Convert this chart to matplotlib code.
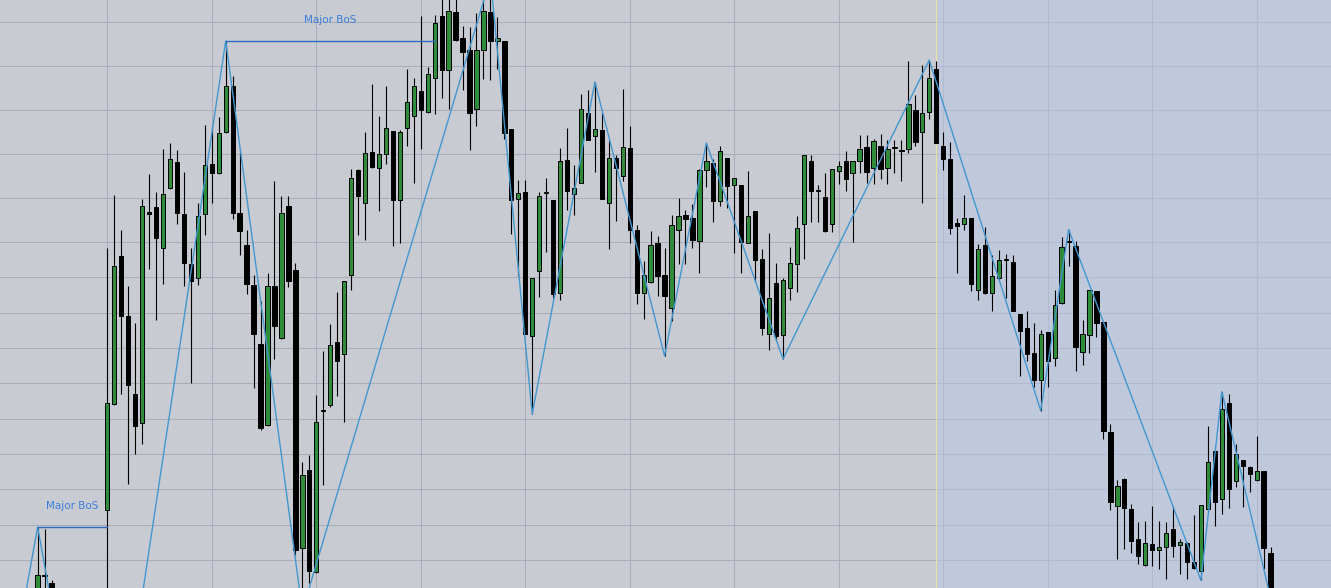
import numpy as np
import matplotlib.pyplot as plt

# candle data (price units, first candle has index -3; several candles sit below the visible range)
first_index = -3
opens = [-12, -12, -6, -5, 13, 5, -10, -35, -75, -110, -160, -205, -240,
         78, 184, 332, 272, 194, 165, 376, 381, 340, 400, 426, 374, 324, 310, 374, 424, 415, 456,
         502, 375, 343, 303, 244, 163, 302, 250, 382, 318, 40, 118, 16, 177.2, 183, 246, 234, 313,
         418, 385, 436, 420, 434, 457, 388, 460, 472, 497, 476, 510, 572, 518, 576, 550, 538, 479,
         538, 576, 547, 547, 459, 389, 396, 252, 317, 395, 388, 295, 428, 394, 405, 475, 452, 458,
         385, 430, 412, 440, 358, 295, 306, 345, 313, 280, 358, 373, 370, 347, 418, 425, 387, 430,
         403, 403, 345.5, 377, 329, 254, 305, 253, 300, 324, 364, 427, 397, 391, 364, 417, 427, 415,
         427, 441, 420, 442, 420, 440, 437.3, 439, 478, 456, 476, 519, 442, 429, 365, 364, 370, 298,
         343, 295, 310, 328, 326, 274, 260, 235, 208, 256, 230, 285, 346.2, 342, 236, 253, 297, 266,
         156, 81.8, 109, 79, 48.8, 23, 43.6, 38, 40.6, 59.3, 43.2, 45, 25.6, 17.3, 78.8, 137, 89.3,
         185, 107, 127.6, 121.2, 108, 116.7, 35]
highs = [-8, -3, -1, 61, 59, 8, -8, -30, -60, -100, -150, -195, -60,
         340, 393, 358, 302, 265, 389, 414, 396, 439, 445, 438, 416, 340, 385, 463, 461, 471, 547,
         512, 439, 358, 313, 287, 315, 407, 392, 392, 325, 126, 133, 193, 237, 264, 296, 307, 419,
         419, 456, 504, 472, 502, 457, 458, 519, 510, 572, 521, 573, 591, 590, 590, 562, 561, 575,
         592, 610, 571, 547, 459, 408, 408, 310.5, 396, 410, 388.5, 440, 460, 423, 494, 498, 506, 475,
         448, 433, 499, 462, 363, 327, 357, 352, 340, 373, 390, 378, 384, 419, 445, 429, 442, 430.5,
         410.5, 403.5, 417, 377.5, 339, 355, 325, 310, 341, 372, 433.5, 433, 403, 415, 419.5, 427, 437, 427.5,
         453, 453, 449, 454, 448, 448, 448, 527, 493, 523, 528, 527, 456, 446, 370, 393, 370.5, 344,
         361, 333, 338, 334, 333, 274.5, 277, 265, 258, 256.5, 298, 351, 358.5, 347, 268, 298.5, 297.5, 266.5,
         163.6, 108, 110, 83.7, 65.7, 66.8, 81.8, 66.8, 66, 81.8, 49.2, 46.2, 73.2, 83, 161.7, 141.8, 196.2,
         194.3, 143.7, 128, 121.6, 152, 117, 40.6]
lows = [-24, -16, -8, -10, -15, -14, -40, -80, -120, -170, -215, -255, -286,
        -20, 183, 194, 104, 134, 144, 319, 268, 304, 399, 364, 302, 205, 303, 353, 385, 414, 455,
        369, 333, 294, 200, 158, 162, 229, 249, 301, 33, -23, 5, 15, 103, 181, 192, 166, 298,
        353, 348, 420, 377, 424, 342, 345, 442, 405, 439, 475, 474, 490, 479, 547, 498, 438, 462,
        509, 508, 519, 449, 354, 312, 254, 174, 291, 336, 290, 288, 378, 373, 405, 448, 416, 389,
        339, 367, 407, 345, 284, 269, 305.5, 292, 232, 267, 324, 324, 340, 315, 401, 366, 382, 380,
        335, 315, 345, 307, 253, 238, 247, 229, 288, 296, 329, 366, 366, 356, 356, 404, 397, 346,
        415, 405, 404, 409, 404, 415, 407, 435, 442, 385, 469, 445, 418, 354, 315, 358, 297, 288,
        294.5, 277, 307, 290, 277, 212, 227, 201, 177.4, 201, 222, 284.5, 322, 217, 223, 235, 251, 148.6,
        78, 29.3, 38.7, 35, 23.7, 22.5, 21.8, 19.2, 9.4, 31.2, 13.6, 9.4, 19.5, 7.6, 77.3, 62, 74.3,
        80, 100.6, 81, 95.7, 107.5, 19.2, -10]
closes = [-20, -6, -2, 13, 12, -10, -35, -75, -110, -160, -205, -240, -70,
          185, 322, 272, 203, 162, 382, 374, 350, 394, 429, 375, 325, 307, 372, 423, 415, 455, 502,
          375, 357, 304, 254, 160, 302, 262, 375, 307, 38, 113, 17, 166, 177.6, 243, 227, 307, 410,
          392, 435, 421, 434, 460, 388, 456, 486, 502, 478, 514, 565, 518, 577, 548, 536, 475, 538,
          577, 547, 550, 455, 388, 395, 254.5, 310, 392, 395.3, 294, 427, 397, 400, 479, 448.5, 459, 389.3,
          430, 420, 441, 358, 295, 313, 343, 312, 292, 363, 372, 369, 348, 418, 427, 387, 437, 402,
          410, 346, 372, 328, 260, 290, 252, 308, 325, 360, 433, 397, 397.3, 357, 419, 422, 409, 427,
          439, 416, 447, 419, 439, 440.3, 437, 484, 446, 475, 510, 445.5, 429, 360, 362, 370, 304, 339,
          295, 312, 328, 328.3, 277.5, 257, 234, 208, 254, 227, 283, 341, 346, 241, 254, 298, 265, 157,
          85.6, 101.7, 80, 47, 32, 45.4, 38, 40.6, 54.8, 41.7, 46.2, 25.6, 20, 82.6, 125.7, 85.6, 178.6,
          98.7, 133.6, 122.3, 113.7, 116.7, 39.8, -5]

# zigzag swing points: (candle index, 'H' = high / 'L' = low)
swings = [(-2, 'L'), (0, 'H'), (9, 'L'), (27, 'H'), (38, 'L'), (65, 'H'), (71, 'L'),
          (80, 'H'), (90, 'L'), (96, 'H'), (107, 'L'), (128, 'H'), (144, 'L'),
          (148, 'H'), (167, 'L'), (170, 'H'), (177, 'L')]

# break of structure: (swing high index, breaking candle index)
bos = [(0, 10), (27, 57)]

# price grid levels and shaded zone start
grid_levels = [27.7, 62.7, 98.7, 133.7, 168.7, 204.7, 239.7, 274.7, 310.7,
               345.7, 389.7, 433.7, 477.7, 521.7, 565.7]
zone_start = 129

o = np.array(opens, dtype=float)
h = np.array(highs, dtype=float)
l = np.array(lows, dtype=float)
c = np.array(closes, dtype=float)
x = np.arange(len(o)) + first_index

fig = plt.figure(figsize=(13.31, 5.88), dpi=100)
ax = fig.add_axes([0, 0, 1, 1])
ax.set_facecolor('#C8CBD1')

# grid
ax.set_axisbelow(True)
ax.set_xticks(np.arange(10, 180, 15))
ax.set_yticks(grid_levels)
ax.grid(True, color='#A9AEBA', linewidth=0.75)
ax.tick_params(length=0, labelbottom=False, labelleft=False)
for s in ax.spines.values():
    s.set_visible(False)

# shaded zone on the right
ax.axvspan(zone_start, 200, color='#BAC7E8', alpha=0.5, linewidth=0, zorder=1)
ax.axvline(zone_start, color='#E6E49C', linewidth=0.8, zorder=1.2)

# candles
up = c >= o
ax.vlines(x, l, h, color='black', linewidth=0.8, zorder=2.5)
bottoms = np.minimum(o, c)
heights = np.maximum(np.abs(c - o), 0.9)
ax.bar(x, heights, bottom=bottoms, width=0.62,
       color=np.where(up, '#2F8C3B', 'black'), edgecolor='black',
       linewidth=0.7, zorder=3)

# zigzag
zx = [i for i, t in swings]
zy = [h[i - first_index] if t == 'H' else l[i - first_index] for i, t in swings]
ax.plot(zx, zy, color='#4297CF', linewidth=1.0, zorder=4)

# BoS lines
for i0, i1 in bos:
    level = h[i0 - first_index]
    ax.plot([i0, i1], [level, level], color='#2D6CC3', linewidth=1.0, zorder=4)
    ax.text((i0 + i1) / 2, level + 21, 'Major BoS', ha='center', va='center',
            fontsize=7.5, color='#3B7DDB', zorder=5)

ax.set_xlim(-5.403, 185.67)
ax.set_ylim(0, 588)

fig.savefig('out.png', dpi=100)
